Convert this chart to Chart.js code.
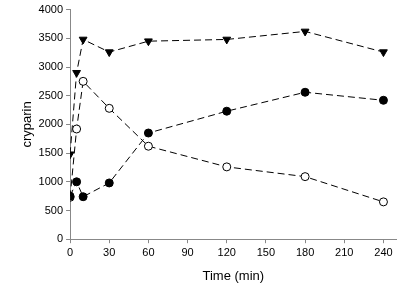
<!DOCTYPE html>
<html>
<head>
<meta charset="utf-8">
<script src="https://cdn.jsdelivr.net/npm/chart.js@4"></script>
<style>
  html, body { margin: 0; padding: 0; background: #fff; }
  #wrap { width: 402px; height: 301px; }
</style>
</head>
<body>
<div id="wrap"><canvas id="c" width="402" height="301"></canvas></div>
<script>
  // --- DATA ---
  const timesMin = [0, 5, 10, 30, 60, 120, 180, 240];
  const triangleSeries = [1480, 2900, 3480, 3260, 3450, 3480, 3620, 3260];
  const filledSeries = [750, 1000, 740, 980, 1850, 2230, 2560, 2420];
  const openSeries = [730, 1920, 2750, 2280, 1620, 1260, 1090, 650];
  const xTicks = [0, 30, 60, 90, 120, 150, 180, 210, 240];
  const yTicks = [0, 500, 1000, 1500, 2000, 2500, 3000, 3500, 4000];

  const toPoints = (vals) => timesMin.map((t, i) => ({ x: t, y: vals[i] }));
  const font = { family: "'Liberation Sans', Arial, sans-serif", size: 11 };

  const baseLine = {
    showLine: true,
    borderColor: '#000',
    borderWidth: 1,
    borderDash: [7, 4],
    pointBorderColor: '#000',
    pointBorderWidth: 1,
    pointRadius: 4
  };

  new Chart(document.getElementById('c'), {
    type: 'scatter',
    data: {
      datasets: [
        { ...baseLine, data: toPoints(filledSeries), pointStyle: 'circle', pointBackgroundColor: '#000' },
        { ...baseLine, data: toPoints(openSeries), pointStyle: 'circle', pointBackgroundColor: '#fff' },
        { ...baseLine, data: toPoints(triangleSeries), pointStyle: 'triangle', pointRotation: 180, pointBackgroundColor: '#000', pointRadius: 4.5 }
      ]
    },
    options: {
      responsive: false,
      animation: false,
      layout: { padding: { left: 16, right: 5, top: 8, bottom: 13 } },
      plugins: { legend: { display: false }, tooltip: { enabled: false } },
      scales: {
        x: {
          type: 'linear', min: 0, max: 250,
          afterBuildTicks: (s) => { s.ticks = xTicks.map(v => ({ value: v })); },
          grid: { drawOnChartArea: false, tickLength: 4, color: '#888' },
          border: { color: '#888' },
          ticks: { color: '#000', font, padding: 3, maxRotation: 0, callback: (v) => String(v) },
          title: { display: true, text: 'Time (min)', color: '#000', font: { ...font, size: 13 }, padding: { top: 6 } }
        },
        y: {
          type: 'linear', min: 0, max: 4000,
          afterBuildTicks: (s) => { s.ticks = yTicks.map(v => ({ value: v })); },
          grid: { drawOnChartArea: false, tickLength: 4, color: '#888' },
          border: { color: '#888' },
          ticks: { color: '#000', font, padding: 3, callback: (v) => String(v) },
          title: { display: true, text: 'cryparin', color: '#000', font: { ...font, size: 13 }, padding: { bottom: 0 } }
        }
      }
    }
  });
</script>
</body>
</html>
